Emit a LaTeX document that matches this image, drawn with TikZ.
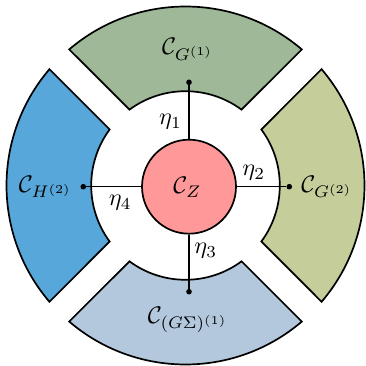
\documentclass[tikz,border=0pt]{standalone}
\definecolor{cTop}{RGB}{158,184,152}
\definecolor{cRight}{RGB}{197,206,155}
\definecolor{cLeft}{RGB}{87,167,219}
\definecolor{cBot}{RGB}{179,200,220}
\definecolor{cRed}{RGB}{255,153,153}
\begin{document}
\begin{tikzpicture}[x=1pt,y=1pt,
  sector/.style={draw=black, line width=1.7pt, line join=miter},
  lab/.style={scale=2.4, inner sep=0pt, anchor=base},
  dotn/.style={circle, fill=black, inner sep=0pt, minimum size=5.6pt},
  conn/.style={line width=1.4pt},
  core/.style={circle, draw=black, line width=1.7pt, fill=cRed, minimum size=94pt, inner sep=0pt}]
\useasboundingbox (-185.5,-180.5) rectangle (179.5,185.5);
\pgfmathsetmacro{\Ro}{179}
\pgfmathsetmacro{\Ri}{94.3}
\pgfmathsetmacro{\ao}{45-asin(14/\Ro)}
\pgfmathsetmacro{\ai}{45-asin(14/\Ri)}
\foreach \a/\col in {90/cTop, 0/cRight, 180/cLeft, 270/cBot} {
  \draw[sector, fill=\col] ({\a-\ao}:\Ro) arc[start angle={\a-\ao}, end angle={\a+\ao}, radius=\Ro]
    -- ({\a+\ai}:\Ri) arc[start angle={\a+\ai}, end angle={\a-\ai}, radius=\Ri] -- cycle;
}
\node[core] (Z) at (3.5,-1.2) {};
\node[dotn] (d1) at (3.5,103.2) {};
\node[dotn] (d2) at (103.8,-1.2) {};
\node[dotn] (d3) at (3.5,-106.2) {};
\node[dotn] (d4) at (-102.2,-1.2) {};
\draw[conn] (Z) -- (d1);
\draw[conn] (Z) -- (d2);
\draw[conn] (Z) -- (d3);
\draw[conn] (Z) -- (d4);
\node[lab] (lz) at (2,-8.5) {$\mathcal{C}_Z$};
\node[lab] (l1) at (2.3,130.5) {$\mathcal{C}_{G^{(1)}}$};
\node[lab] (l2) at (141.5,-6.8) {$\mathcal{C}_{G^{(2)}}$};
\node[lab] (l3) at (2.3,-137.8) {$\mathcal{C}_{(G\Sigma)^{(1)}}$};
\node[lab] (l4) at (-140,-6.8) {$\mathcal{C}_{H^{(2)}}$};
\node[lab] (e1) at (-15,60.8) {$\eta_1$};
\node[lab] (e2) at (68.2,9.5) {$\eta_2$};
\node[lab] (e3) at (20.3,-68.5) {$\eta_3$};
\node[lab] (e4) at (-65.2,-20) {$\eta_4$};
\end{tikzpicture}
\end{document}
